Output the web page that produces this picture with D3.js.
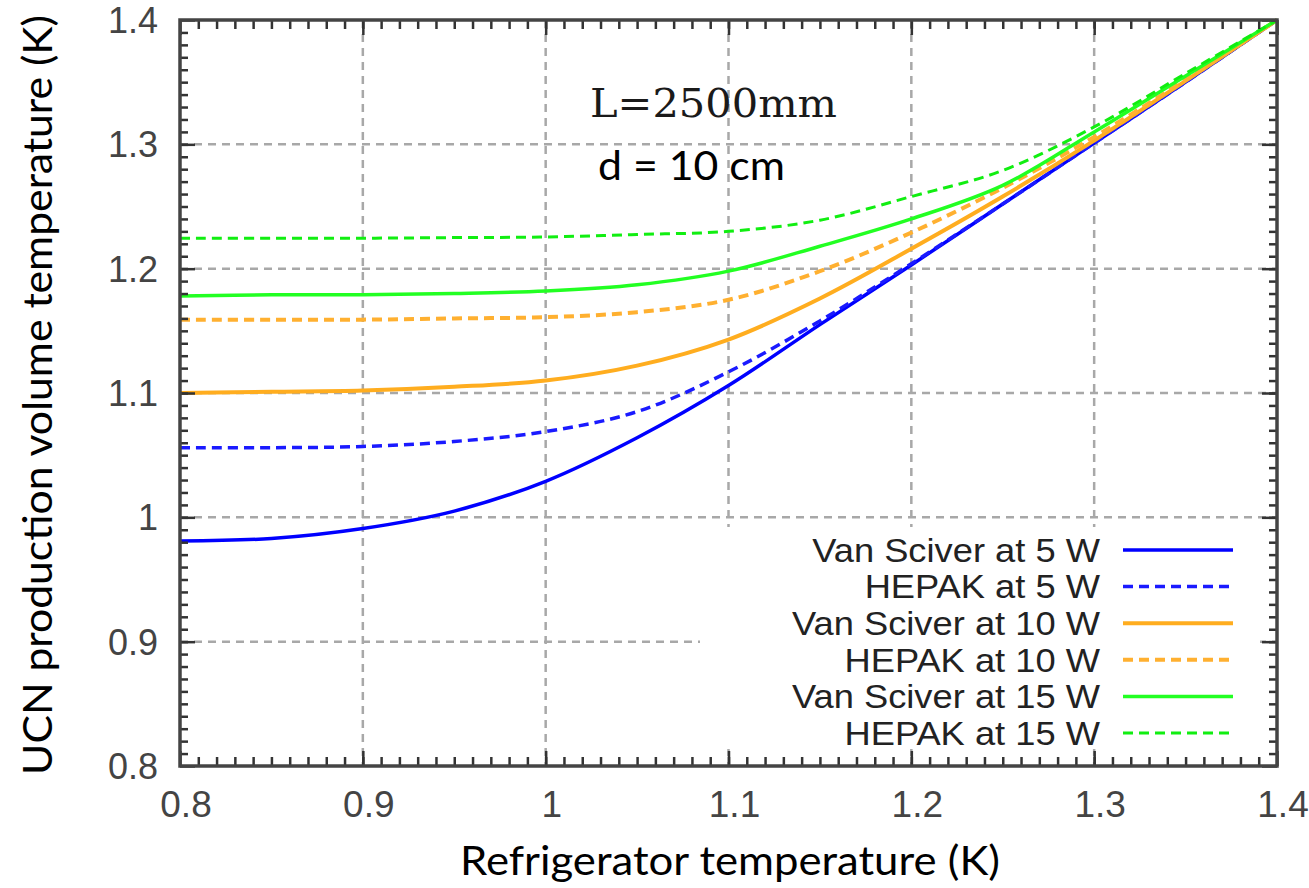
<!DOCTYPE html>
<html lang="en">
<head>
<meta charset="UTF-8">
<script src="https://d3js.org/d3.v7.min.js"></script>
<title>UCN production volume temperature</title>
<style>
  body { margin: 0; background: white; }
  svg { display: block; }
  .tick-label { font-family: "Liberation Sans", Arial, sans-serif; fill: #333; }
  .title { font-family: Lato, "Open Sans", sans-serif; fill: #000; }
</style>
</head>
<body>
<svg id="chart"></svg>
<script>
// refrigerator temperature (K) sampled along the x axis
const refrigT = [0.8, 0.85, 0.9, 0.95, 1.0, 1.05, 1.1, 1.15, 1.2, 1.25, 1.3, 1.35, 1.4];

// UCN production volume temperature (K)
const vanSciver5W  = [0.981, 0.983, 0.991, 1.005, 1.029, 1.064, 1.106, 1.155, 1.203, 1.252, 1.301, 1.350, 1.400];
const hepak5W      = [1.056, 1.056, 1.057, 1.061, 1.069, 1.085, 1.117, 1.158, 1.204, 1.252, 1.301, 1.350, 1.400];
const vanSciver10W = [1.100, 1.101, 1.102, 1.105, 1.110, 1.122, 1.143, 1.176, 1.216, 1.258, 1.303, 1.351, 1.400];
const hepak10W     = [1.159, 1.159, 1.159, 1.160, 1.161, 1.165, 1.175, 1.198, 1.229, 1.265, 1.306, 1.352, 1.400];
const vanSciver15W = [1.178, 1.179, 1.179, 1.180, 1.182, 1.187, 1.198, 1.218, 1.240, 1.267, 1.310, 1.355, 1.400];
const hepak15W     = [1.2245, 1.2245, 1.2245, 1.225, 1.2255, 1.2275, 1.230, 1.239, 1.258, 1.279, 1.314, 1.357, 1.400];

const seriesNames = ["Van Sciver at 5 W", "HEPAK at 5 W", "Van Sciver at 10 W",
                     "HEPAK at 10 W", "Van Sciver at 15 W", "HEPAK at 15 W"];
const seriesValues = [vanSciver5W, hepak5W, vanSciver10W, hepak10W, vanSciver15W, hepak15W];

const xTicks = [0.8, 0.9, 1.0, 1.1, 1.2, 1.3, 1.4];
const yTicks = [0.8, 0.9, 1.0, 1.1, 1.2, 1.3, 1.4];
const xTickLabels = ["0.8", "0.9", "1", "1.1", "1.2", "1.3", "1.4"];
const yTickLabels = ["0.8", "0.9", "1", "1.1", "1.2", "1.3", "1.4"];

const W = 1309, H = 888;
const pLeft = 180, pRight = 1277, pTop = 20, pBottom = 766;

const svg = d3.select("#chart").attr("width", W).attr("height", H);
svg.append("rect").attr("width", W).attr("height", H).attr("fill", "white");

const x = d3.scaleLinear().domain([0.8, 1.4]).range([pLeft, pRight]);
const y = d3.scaleLinear().domain([0.8, 1.4]).range([pBottom, pTop]);

const styles = [
  { color: "#0000ff", dash: null,   width: 3.5 },
  { color: "#1a1aff", dash: "10,6", width: 3.5 },
  { color: "#ffad1f", dash: null,   width: 4 },
  { color: "#ffb030", dash: "10,6", width: 4 },
  { color: "#22ff22", dash: null,   width: 3.5 },
  { color: "#11ee11", dash: "10,6", width: 3 }
];

// grid
const grid = svg.append("g").attr("stroke", "#a8a8a8").attr("stroke-width", 2.5)
  .attr("stroke-dasharray", "8,6");
grid.selectAll(".gx").data(xTicks.slice(1, -1)).enter().append("line")
  .attr("x1", d => x(d)).attr("x2", d => x(d)).attr("y1", pTop).attr("y2", pBottom);
grid.selectAll(".gy").data(yTicks.slice(1, -1)).enter().append("line")
  .attr("y1", d => y(d)).attr("y2", d => y(d)).attr("x1", pLeft).attr("x2", pRight);

// curves
const line = d3.line().x(d => x(d[0])).y(d => y(d[1])).curve(d3.curveCatmullRom.alpha(0.5));
seriesValues.forEach((vals, i) => {
  const pts = refrigT.map((t, j) => [t, vals[j]]);
  svg.append("path").datum(pts)
    .attr("d", line)
    .attr("fill", "none")
    .attr("stroke", styles[i].color)
    .attr("stroke-width", styles[i].width)
    .attr("stroke-dasharray", styles[i].dash);
});

// legend (opaque box hides grid)
svg.append("rect").attr("x", 700).attr("y", 527).attr("width", 560).attr("height", 222)
  .attr("fill", "white");
const legY = d3.scalePoint().domain(seriesNames).range([550, 733]);
const leg = svg.append("g");
seriesNames.forEach((name, i) => {
  const t = leg.append("text")
    .attr("x", 1100).attr("y", legY(name))
    .attr("dy", "0.36em")
    .attr("text-anchor", "end")
    .attr("class", "tick-label")
    .style("font-size", "33px")
    .style("fill", "#222")
    .text(name);
  // gnuplot text is a bit wider than Liberation Sans at this height
  const natural = t.node().getComputedTextLength();
  t.attr("textLength", natural * 1.1).attr("lengthAdjust", "spacingAndGlyphs");
  leg.append("line")
    .attr("x1", 1123).attr("x2", 1233)
    .attr("y1", legY(name)).attr("y2", legY(name))
    .attr("stroke", styles[i].color)
    .attr("stroke-width", styles[i].width)
    .attr("stroke-dasharray", styles[i].dash);
});

// frame + inward ticks on all sides
const minorX = d3.range(81, 140).map(v => v / 100);
const minorY = d3.range(81, 140).map(v => v / 100);
function tickAxis(axis, transform) {
  const g = svg.append("g").attr("transform", transform).call(axis);
  g.selectAll("text").remove();
  g.select(".domain").remove();
  g.selectAll(".tick line").attr("stroke", "#333").attr("stroke-width", 2.5);
  return g;
}
tickAxis(d3.axisBottom(x).tickValues(minorX).tickSize(-9), `translate(0,${pBottom})`);
tickAxis(d3.axisBottom(x).tickValues(xTicks).tickSize(-15), `translate(0,${pBottom})`);
tickAxis(d3.axisTop(x).tickValues(minorX).tickSize(-9), `translate(0,${pTop})`);
tickAxis(d3.axisTop(x).tickValues(xTicks).tickSize(-15), `translate(0,${pTop})`);
tickAxis(d3.axisLeft(y).tickValues(minorY).tickSize(-8), `translate(${pLeft},0)`);
tickAxis(d3.axisLeft(y).tickValues(yTicks).tickSize(-15), `translate(${pLeft},0)`);
tickAxis(d3.axisRight(y).tickValues(minorY).tickSize(-8), `translate(${pRight},0)`);
tickAxis(d3.axisRight(y).tickValues(yTicks).tickSize(-15), `translate(${pRight},0)`);

svg.append("rect").attr("x", pLeft).attr("y", pTop)
  .attr("width", pRight - pLeft).attr("height", pBottom - pTop)
  .attr("fill", "none").attr("stroke", "#444").attr("stroke-width", 3.5);

// tick labels
svg.selectAll(".xl").data(xTicks).enter().append("text")
  .attr("class", "tick-label")
  .attr("x", d => x(d) + 6).attr("y", 817)
  .attr("text-anchor", "middle")
  .style("font-size", "37px")
  .style("fill", "#444")
  .text((d, i) => xTickLabels[i]);
svg.selectAll(".yl").data(yTicks).enter().append("text")
  .attr("class", "tick-label")
  .attr("x", 158).attr("y", d => y(d))
  .attr("dy", "0.36em")
  .attr("text-anchor", "end")
  .style("font-size", "36px")
  .style("fill", "#444")
  .text((d, i) => yTickLabels[i]);

// annotations
svg.append("text")
  .attr("x", 590).attr("y", 117)
  .attr("textLength", 247).attr("lengthAdjust", "spacingAndGlyphs")
  .style("font-family", "'DejaVu Serif', 'Liberation Serif', serif")
  .style("font-size", "40px")
  .style("fill", "#1a1a1a")
  .text("L=2500mm");
svg.append("text")
  .attr("class", "title")
  .attr("x", 598).attr("y", 180)
  .attr("textLength", 187).attr("lengthAdjust", "spacingAndGlyphs")
  .style("font-size", "40px")
  .text("d = 10 cm");

// axis titles
svg.append("text")
  .attr("class", "title")
  .attr("x", 730).attr("y", 875)
  .attr("text-anchor", "middle")
  .attr("textLength", 540).attr("lengthAdjust", "spacingAndGlyphs")
  .style("font-size", "41px")
  .text("Refrigerator temperature (K)");
svg.append("text")
  .attr("class", "title")
  .attr("transform", "translate(52,395) rotate(-90)")
  .attr("text-anchor", "middle")
  .attr("textLength", 760).attr("lengthAdjust", "spacingAndGlyphs")
  .style("font-size", "41px")
  .text("UCN production volume temperature (K)");
</script>
</body>
</html>
